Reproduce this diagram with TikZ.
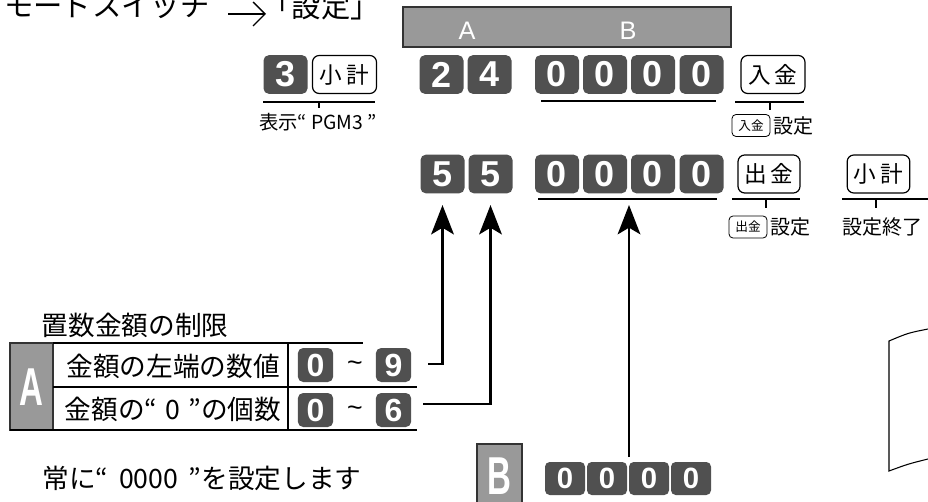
\documentclass[tikz,border=0pt]{standalone}
\usepackage{fontspec}
\setmainfont{Noto Sans CJK JP}
\newfontfamily\keyfont{Liberation Sans}
\newfontfamily\condfont[FakeStretch=0.62]{Liberation Sans}
\usetikzlibrary{arrows.meta}
\definecolor{keygray}{RGB}{80,80,80}
\definecolor{cellgray}{RGB}{153,153,153}
\definecolor{edgegray}{RGB}{51,51,51}
\tikzset{
  dkey/.style={fill=keygray, text=white, rounded corners=4pt, minimum width=33pt, minimum height=29pt, inner sep=0pt, font=\keyfont\bfseries\fontsize{27}{27}\selectfont},
  tkey/.style={dkey, minimum width=26.5pt, minimum height=25.5pt, font=\keyfont\bfseries\fontsize{24}{24}\selectfont},
  bkey/.style={dkey, minimum width=30pt, minimum height=24.75pt, rounded corners=3.5pt, font=\keyfont\bfseries\fontsize{22}{22}\selectfont},
  okey/.style={draw, line width=0.9pt, rounded corners=5pt, minimum width=48pt, minimum height=28.5pt, inner sep=0pt, font=\fontsize{17}{17}\selectfont},
  skey/.style={draw, line width=0.6pt, rounded corners=3pt, minimum width=28.5pt, minimum height=16.5pt, inner sep=0pt, font=\fontsize{9.5}{9.5}\selectfont},
  uline/.style={line width=0.9pt},
  lab/.style={inner sep=0pt, font=\fontsize{15}{15}\selectfont},
  big/.style={inner sep=0pt, font=\fontsize{20}{20}\selectfont},
  ttl/.style={inner sep=0pt, font=\fontsize{22}{22}\selectfont},
  arr/.style={line width=1.9pt, -{Stealth[length=22pt,width=17pt,inset=5pt]}},
  cell/.style={fill=cellgray, draw=edgegray, line width=0.9pt},
  bigletter/.style={text=white, inner sep=0pt, font=\condfont\bfseries\fontsize{40}{40}\selectfont},
  tline/.style={line width=0.9pt}
}
\begin{document}
\begin{tikzpicture}[x=0.75pt,y=-0.75pt]
\useasboundingbox (0,0) rectangle (928,502);

% top title
\node[ttl, anchor=west] (mode) at (4,6) {モードスイッチ};
\node[ttl, anchor=east] (set) at (380,6) {「設定」};
\coordinate (ta) at (228,14);
\coordinate (tb) at (266,14);
\draw[line width=1pt, -{Straight Barb[length=9pt,width=18pt,line width=1pt]}] (ta) -- (tb);

% gray bar
\node[cell, minimum width=246pt, minimum height=30pt, inner sep=0pt] (bar) at (567,27) {};
\node[text=white, inner sep=0pt, font=\keyfont\fontsize{19}{19}\selectfont] (barA) at (467,31) {A};
\node[text=white, inner sep=0pt, font=\keyfont\fontsize{19}{19}\selectfont] (barB) at (628,31) {B};

% row 1
\node[dkey] (k3) at (285.5,74.5) {3};
\node[okey] (ks1) at (344.5,74.5) {小\hspace{3pt}計};
\node[dkey] (k2) at (441.5,74.5) {2};
\node[dkey] (k4) at (489.5,74.5) {4};
\node[dkey] (ka1) at (557,74.5) {0};
\node[dkey] (ka2) at (605,74.5) {0};
\node[dkey] (ka3) at (653,74.5) {0};
\node[dkey] (ka4) at (701.5,74.5) {0};
\node[okey] (kin) at (773,74.5) {入\hspace{3pt}金};

\draw[uline] (263,102) -- (375,102);
\draw[uline] (319,102) -- (319,108);
\node[inner sep=0pt, font=\fontsize{14.5}{14.5}\selectfont] (lab1) at (318,122) {表示“ PGM3 ”};
\draw[uline] (541,101) -- (716,101);
\draw[uline] (735,102) -- (804,102);
\draw[uline] (770,102) -- (770,110);
\node[skey] (sin) at (751,125.5) {入金};
\node[lab, anchor=west] (lin) at ([xshift=2pt]sin.east) {設定};

% row 2
\node[dkey] (r5a) at (442.5,174) {5};
\node[dkey] (r5b) at (490.5,174) {5};
\node[dkey] (rb1) at (557,174) {0};
\node[dkey] (rb2) at (605,174) {0};
\node[dkey] (rb3) at (653,174) {0};
\node[dkey] (rb4) at (701.5,174) {0};
\node[okey, minimum width=46.5pt] (kout) at (769,174) {出\hspace{3pt}金};
\node[okey, minimum width=47pt] (ks2) at (878.5,174) {小\hspace{3pt}計};

\draw[uline] (538,199) -- (717,199);
\draw[uline] (732,199) -- (800,199);
\draw[uline] (766,199) -- (766,208);
\draw[uline] (842,199) -- (928,199);
\draw[uline] (876,199) -- (876,208);
\node[skey] (sout) at (748,227) {出金};
\node[lab, anchor=west] (lout) at ([xshift=2pt]sout.east) {設定};
\node[lab] (lend) at (882,227) {設定終了};

% table
\node[big] (ttl) at (135,325) {置数金額の制限};
\draw[cell] (10,343) rectangle (53,430);
\node[bigletter] (cA) at (31.5,387) {A};
\draw[tline] (53,343) -- (363,343);
\draw[tline] (53,387) -- (417,387);
\draw[tline] (10,430) -- (417,430);
\draw[tline] (288,343) -- (288,430);
\node[big] (t1) at (173,366) {金額の左端の数値};
\node[big] (t2) at (173,409) {金額の“\hspace{6pt}0\hspace{6pt}”の個数};
\node[tkey] (t0a) at (315.5,365) {0};
\node[inner sep=0pt, font=\keyfont\fontsize{20}{20}\selectfont] (tt1) at (355,366) {\char`~};
\node[tkey] (t9) at (393.5,365) {9};
\node[tkey] (t0b) at (315.5,410) {0};
\node[inner sep=0pt, font=\keyfont\fontsize{20}{20}\selectfont] (tt2) at (355,411) {\char`~};
\node[tkey] (t6) at (393.5,410) {6};

% arrows
\coordinate (e1) at (428,364);
\coordinate (e2) at (423,404);
\coordinate (e3) at (629,457);
\coordinate (e3t) at (629,205);
\draw[arr, shorten >=8.6pt] (e1) -| (r5a.south);
\draw[arr, shorten >=8.6pt] (e2) -| (r5b.south);
\draw[arr] (e3) -- (e3t);

% bottom
\node[big] (always) at (202,478) {常に“\hspace{8pt}0000\hspace{8pt}”を設定します};
\draw[cell] (477,444) rectangle (522,512);
\node[bigletter] (cB) at (499.5,476) {B};
\node[bkey] (c1) at (565,478.5) {0};
\node[bkey] (c2) at (607,478.5) {0};
\node[bkey] (c3) at (649,478.5) {0};
\node[bkey] (c4) at (691,478.5) {0};

% right sketch
\draw[line width=0.8pt] (928,329) .. controls (908,333) .. (889,341) -- (889,471) .. controls (908,464) .. (928,459);
\end{tikzpicture}
\end{document}
